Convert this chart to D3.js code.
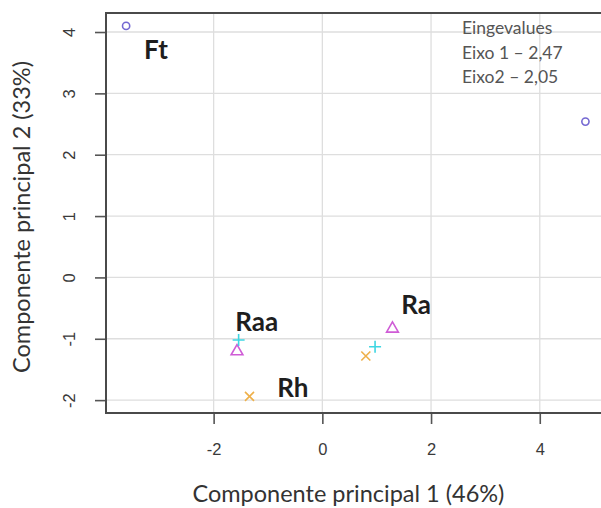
<!DOCTYPE html>
<html>
<head>
<meta charset="utf-8">
<script src="https://cdn.jsdelivr.net/npm/d3@7"></script>
<style>
  body { margin: 0; background: #fff; }
  svg { display: block; }
  .tick text { font-family: "Liberation Sans", Arial, sans-serif; }
</style>
</head>
<body>
<svg class="pca" width="601" height="508"></svg>
<script>
// scores on the two first principal components
const circles   = [{x: -3.61, y: 4.10}, {x: 4.84, y: 2.54}];
const triangles = [{x: -1.57, y: -1.19}, {x: 1.29, y: -0.82}];
const pluses    = [{x: -1.54, y: -1.02}, {x: 0.97, y: -1.13}];
const crosses   = [{x: -1.34, y: -1.94}, {x: 0.80, y: -1.28}];

const groupNames = ["Ft", "Raa", "Rh", "Ra"];
const groupLabelX = [-3.28, -1.60, -0.83, 1.45];
const groupLabelY = [3.56, -0.88, -1.95, -0.60];

const xTicks = [-2, 0, 2, 4];
const yTicks = [-2, -1, 0, 1, 2, 3, 4];
const eigenLines = ["Eingevalues", "Eixo 1 \u2013 2,47", "Eixo2 \u2013 2,05"];

const xTitle = "Componente principal 1 (46%)";
const yTitle = "Componente principal 2 (33%)";

function drawPca() {
    const svg = d3.select("svg.pca");
    const margin = {top: 13, right: -4, bottom: 95, left: 106};
    const width = +svg.attr("width") - margin.left - margin.right;
    const height = +svg.attr("height") - margin.top - margin.bottom;

    const x = d3.scaleLinear().domain([-3.98, 5.2]).range([0, width]);
    const y = d3.scaleLinear().domain([-2.21, 4.31]).range([height, 0]);

    const g = svg.append("g")
        .attr("transform", `translate(${margin.left}, ${margin.top})`);

    // grid
    g.append("g")
        .selectAll("line")
        .data(xTicks)
        .enter().append("line")
            .attr("x1", d => x(d)).attr("x2", d => x(d))
            .attr("y1", 0).attr("y2", height)
            .attr("stroke", "#dedede").attr("stroke-width", 1.3);
    g.append("g")
        .selectAll("line")
        .data(yTicks)
        .enter().append("line")
            .attr("x1", 0).attr("x2", width)
            .attr("y1", d => y(d)).attr("y2", d => y(d))
            .attr("stroke", "#dedede").attr("stroke-width", 1.3);

    // axes (plain hyphen minus like R)
    const fmt = d => String(d);
    const xAxis = g.append("g")
        .attr("transform", `translate(0, ${height})`)
        .call(d3.axisBottom(x).tickValues(xTicks).tickSize(11).tickPadding(19).tickFormat(fmt));
    const yAxis = g.append("g")
        .call(d3.axisLeft(y).tickValues(yTicks).tickSize(11).tickPadding(8).tickFormat(fmt));

    [xAxis, yAxis].forEach(a => {
        a.select(".domain").remove();
        a.selectAll(".tick line").attr("stroke", "#555").attr("stroke-width", 1.6);
        a.selectAll(".tick text").attr("fill", "#3a3a3a").attr("font-size", 16.5);
    });
    yAxis.selectAll(".tick text")
        .attr("text-anchor", "middle")
        .attr("dy", null)
        .attr("x", null)
        .attr("transform", "translate(-37, 0) rotate(-90)")
        .attr("dominant-baseline", "central");

    // box
    g.append("rect")
        .attr("width", width).attr("height", height)
        .attr("fill", "none").attr("stroke", "#4a4a4a").attr("stroke-width", 2);

    // markers
    g.selectAll(".circ")
        .data(circles)
        .enter().append("circle")
            .attr("class", "circ")
            .attr("cx", d => x(d.x)).attr("cy", d => y(d.y)).attr("r", 3.6)
            .attr("fill", "none").attr("stroke", "#7468d2").attr("stroke-width", 1.6);

    const tri = d3.symbol().type(d3.symbolTriangle).size(60);
    g.selectAll(".tri")
        .data(triangles)
        .enter().append("path")
            .attr("class", "tri")
            .attr("d", tri)
            .attr("transform", d => `translate(${x(d.x)}, ${y(d.y) + 1})`)
            .attr("fill", "none").attr("stroke", "#cf5cd6").attr("stroke-width", 1.6);

    g.selectAll(".plus")
        .data(pluses)
        .enter().append("path")
            .attr("class", "plus")
            .attr("d", "M-6,0H6M0,-6V6")
            .attr("transform", d => `translate(${x(d.x)}, ${y(d.y)})`)
            .attr("stroke", "#3ed6e2").attr("stroke-width", 1.6);

    g.selectAll(".cross")
        .data(crosses)
        .enter().append("path")
            .attr("class", "cross")
            .attr("d", "M-4.5,-4.5L4.5,4.5M-4.5,4.5L4.5,-4.5")
            .attr("transform", d => `translate(${x(d.x)}, ${y(d.y)})`)
            .attr("stroke", "#eeb04a").attr("stroke-width", 1.6);

    // group labels
    g.selectAll(".lab")
        .data(groupNames)
        .enter().append("text")
            .attr("class", "lab")
            .attr("x", (d, i) => x(groupLabelX[i]))
            .attr("y", (d, i) => y(groupLabelY[i]))
            .attr("font-family", "Lato, 'Open Sans', sans-serif")
            .attr("font-weight", "bold")
            .attr("font-size", 26)
            .attr("fill", "#1e1e1e")
            .text(d => d);

    // eigenvalues note
    g.append("text")
        .attr("font-family", "Lato, 'Open Sans', sans-serif")
        .attr("font-size", 17.5)
        .attr("fill", "#555")
        .selectAll("tspan")
        .data(eigenLines)
        .enter().append("tspan")
            .attr("x", 356)
            .attr("y", (d, i) => 21 + i * 24.5)
            .text(d => d);

    // axis titles
    svg.append("text")
        .attr("x", margin.left + x(0.48)).attr("y", 502)
        .attr("text-anchor", "middle")
        .attr("font-family", "Lato, 'Open Sans', sans-serif")
        .attr("font-size", 23.5)
        .attr("fill", "#333")
        .text(xTitle);

    svg.append("text")
        .attr("transform", `translate(30, ${margin.top + height / 2 + 4}) rotate(-90)`)
        .attr("text-anchor", "middle")
        .attr("font-family", "Lato, 'Open Sans', sans-serif")
        .attr("font-size", 23.5)
        .attr("fill", "#333")
        .text(yTitle);
}

drawPca();
</script>
</body>
</html>
